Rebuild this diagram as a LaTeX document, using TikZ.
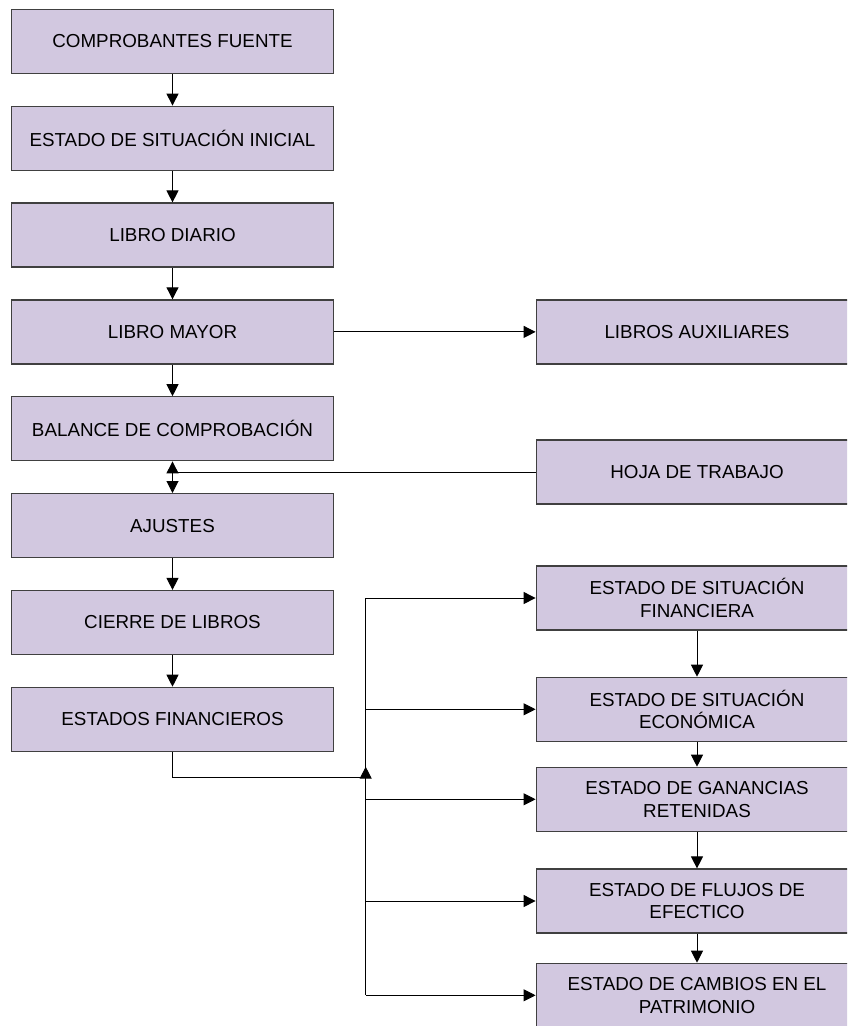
\documentclass[tikz,border=0pt]{standalone}
\usepackage{fontspec}
\setmainfont{Liberation Sans}
\usetikzlibrary{arrows.meta}
\definecolor{boxfill}{RGB}{210,200,224}
\definecolor{boxline}{RGB}{64,64,64}
\begin{document}
\begin{tikzpicture}[x=1pt,y=-1pt,
  box/.style={draw=boxline, line width=1.2pt, fill=boxfill,
    minimum width=321.6pt, minimum height=64pt, inner sep=0pt,
    align=center, font=\fontsize{18.8}{22.5}\selectfont},
  link/.style={line width=1pt, -{Triangle[length=12pt,width=12pt]}},
  plain/.style={line width=1pt}]
\useasboundingbox (0,0) rectangle (847,1026);
\clip (0,0) rectangle (847,1026);

% main column
\node[box] (cf)  at (172.5,41.3)  {COMPROBANTES FUENTE};
\node[box] (esi) at (172.5,138.2) {ESTADO DE SITUACIÓN INICIAL};
\node[box] (ld)  at (172.5,235.0) {LIBRO DIARIO};
\node[box] (lm)  at (172.5,331.9) {LIBRO MAYOR};
\node[box] (bc)  at (172.5,428.8) {BALANCE DE COMPROBACIÓN};
\node[box] (aj)  at (172.5,525.6) {AJUSTES};
\node[box] (cl)  at (172.5,622.5) {CIERRE DE LIBROS};
\node[box] (ef)  at (172.5,719.3) {ESTADOS FINANCIEROS};

% side column
\node[box] (la)  at (697,331.9) {LIBROS AUXILIARES};
\node[box] (ht)  at (697,472)   {HOJA DE TRABAJO};
\node[box] (esf) at (697,598)   {ESTADO DE SITUACIÓN\\FINANCIERA};
\node[box] (ese) at (697,709.3) {ESTADO DE SITUACIÓN\\ECONÓMICA};
\node[box] (egr) at (697,799.3) {ESTADO DE GANANCIAS\\RETENIDAS};
\node[box] (efe) at (697,901)   {ESTADO DE FLUJOS DE\\EFECTICO};
\node[box] (ecp) at (697,995.3) {ESTADO DE CAMBIOS EN EL\\PATRIMONIO};

% straight vertical links
\foreach \a/\b in {cf/esi, esi/ld, ld/lm, lm/bc, aj/cl, cl/ef,
                   esf/ese, ese/egr, egr/efe, efe/ecp}
  \draw[link] (\a) -- (\b);

\draw[link] (lm) -- (la);

% worksheet feeding both neighbours
\coordinate (hj) at (bc.south |- ht.west);
\draw[plain] (ht.west) -- (hj);
\draw[link] (hj) -- (bc.south);
\draw[link] (hj) -- (aj.north);

% distribution trunk to the financial statements
\coordinate (tt) at (365.7,598);
\coordinate (jt) at (365.7,766.7);
\draw[plain] (tt |- esf.west) -- (tt |- ecp.west);
\foreach \n in {esf,ese,egr,efe,ecp}
  \draw[link] (tt |- \n.west) -- (\n.west);
\draw[link] (ef.south) -- ++(0,25.4) -| (jt);
\end{tikzpicture}
\end{document}
